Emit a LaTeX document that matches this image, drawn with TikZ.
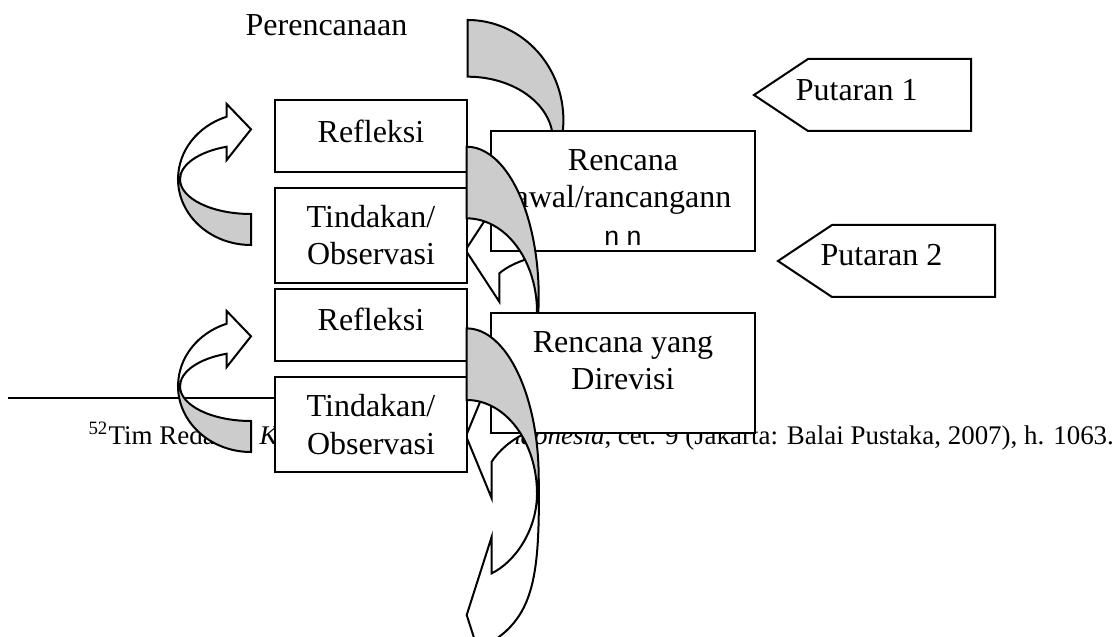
\documentclass[tikz,border=0pt]{standalone}
\usepackage{fontspec}
\setmainfont{Liberation Serif}
\setsansfont{Liberation Sans}
\usetikzlibrary{shapes.symbols}
\definecolor{backgray}{gray}{0.8}

\begin{document}
\begin{tikzpicture}[x=0.375pt, y=-0.375pt,
  every node/.style={font=\fontsize{12}{14}\selectfont},
  box/.style={draw, fill=white, line width=0.75pt, inner sep=0pt, outer sep=0pt},
  refbox/.style={box, minimum width=72pt, minimum height=27pt},
  actbox/.style={box, minimum width=72pt, minimum height=35.625pt},
  planbox/.style={box, minimum width=99pt, minimum height=45pt},
  roundtag/.style={box, signal, signal to=west, signal pointer angle=67.4,
    minimum width=81.4pt, minimum height=27pt},
  txt/.style={anchor=north, inner sep=0pt, align=center},
  band/.style={draw, line width=0.75pt, fill=white},
  backband/.style={draw, line width=0.75pt, fill=backgray}]
  \clip (0,0) rectangle (1115,637);

  % Footnote behind the chart
  \draw[line width=0.6pt] (8,398) -- (395,398);
  \node[anchor=base west, inner sep=0pt, font=\fontsize{10.1}{12}\selectfont] (note) at (88,444)
    {\textsuperscript{52}Tim Redaksi, \textit{Kamus Besar Bahasa Indonesia}, cet. 9 (Jakarta: Balai Pustaka, 2007), h. 1063.};

  % Planning arrow (back part)
  \draw[backband] (467.7,20) arc[start angle=-90, end angle=20, x radius=95.7, y radius=100]
    -- (551.6,151) arc[start angle=10, end angle=-90, x radius=85.2, y radius=63.3] -- cycle;

  % Front parts of the cycle arrows
  \draw[band] (465.5,250) -- (499.3,198.3) -- (499.3,226.7) -- (530,245) -- (530,258)
    .. controls (516,262.5) and (507,267) .. (499.3,273.3) -- (499.3,301.7) -- cycle;
  \draw[band] (466,436) -- (491.7,373.7) -- (491.7,395) -- (520,410) -- (528,432)
    .. controls (510,440) and (498,452) .. (491.7,461.7) -- (491.7,498.3) -- cycle;
  \draw[band] (537,493.7) .. controls (537,530) and (515,562) .. (491.7,573.3)
    -- (491.7,536.7) -- (466.7,615) -- (491.7,693) -- (491.7,642)
    .. controls (534,615) and (540,575) .. (538.7,478.4) -- cycle;

  % Left loop arrows
  \foreach \dy in {0,207} {
    \begin{scope}[shift={(0,\dy)}]
      \draw[band] (226.7,116.7) arc[start angle=-109.5, end angle=-180, x radius=73, y radius=66]
        -- (180,179.3) arc[start angle=-180, end angle=-110, x radius=71, y radius=34.7]
        -- (226.7,160) -- (251,129.3) -- (226.7,104) -- cycle;
      \draw[backband] (178,179) arc[start angle=180, end angle=90, x radius=73, y radius=66]
        -- (251,214) arc[start angle=90, end angle=180, x radius=71, y radius=34.7] -- cycle;
    \end{scope}
  }

  % Cycle boxes
  \node[refbox] (refl1) at (371,136) {};
  \node[txt] (refl1txt) at ([yshift=-7.4pt]refl1.north) {Refleksi};
  \node[actbox] (act1) at (371,235.5) {};
  \node[txt] (act1txt) at ([yshift=-6.2pt]act1.north) {Tindakan/\\Observasi};
  \node[refbox] (refl2) at (371,325) {};
  \node[txt] (refl2txt) at ([yshift=-6.8pt]refl2.north) {Refleksi};
  \node[actbox] (act2) at (371,424.5) {};
  \node[txt] (act2txt) at ([yshift=-6.4pt]act2.north) {Tindakan/\\Observasi};
  \node[planbox] (plan1) at (623,191) {};
  \node[txt] (plan1txt) at ([yshift=-6.7pt]plan1.north)
    {Rencana\\awal/rancangann\\{\sffamily\fontsize{10}{12}\selectfont n n}};

  % Back part, round 1
  \draw[backband] (466.7,146.7) arc[start angle=-90, end angle=20, x radius=72, y radius=150]
    -- (534.6,336.3) arc[start angle=15, end angle=-90, x radius=70.3, y radius=93.7] -- cycle;

  \node[planbox] (plan2) at (623,373) {};
  \node[txt] (plan2txt) at ([yshift=-6.6pt]plan2.north) {Rencana yang\\Direvisi};

  % Back part, round 2
  \draw[backband] (466.7,328.4) arc[start angle=-90, end angle=0, x radius=72, y radius=150]
    -- (538.7,493.7) -- (537,493.7) arc[start angle=0, end angle=-90, x radius=70.3, y radius=93.7] -- cycle;

  % Labels
  \node[anchor=base] (planning) at (326.5,36) {Perencanaan};
  \node[roundtag] (round1) at (889.5,95) {};
  \node[anchor=base] (round1txt) at ([xshift=-12.3pt, yshift=-1.9pt]round1.center) {Putaran 1};
  \node[roundtag] (round2) at (913.5,261) {};
  \node[anchor=base] (round2txt) at ([xshift=-12pt, yshift=-1.6pt]round2.center) {Putaran 2};
\end{tikzpicture}
\end{document}
